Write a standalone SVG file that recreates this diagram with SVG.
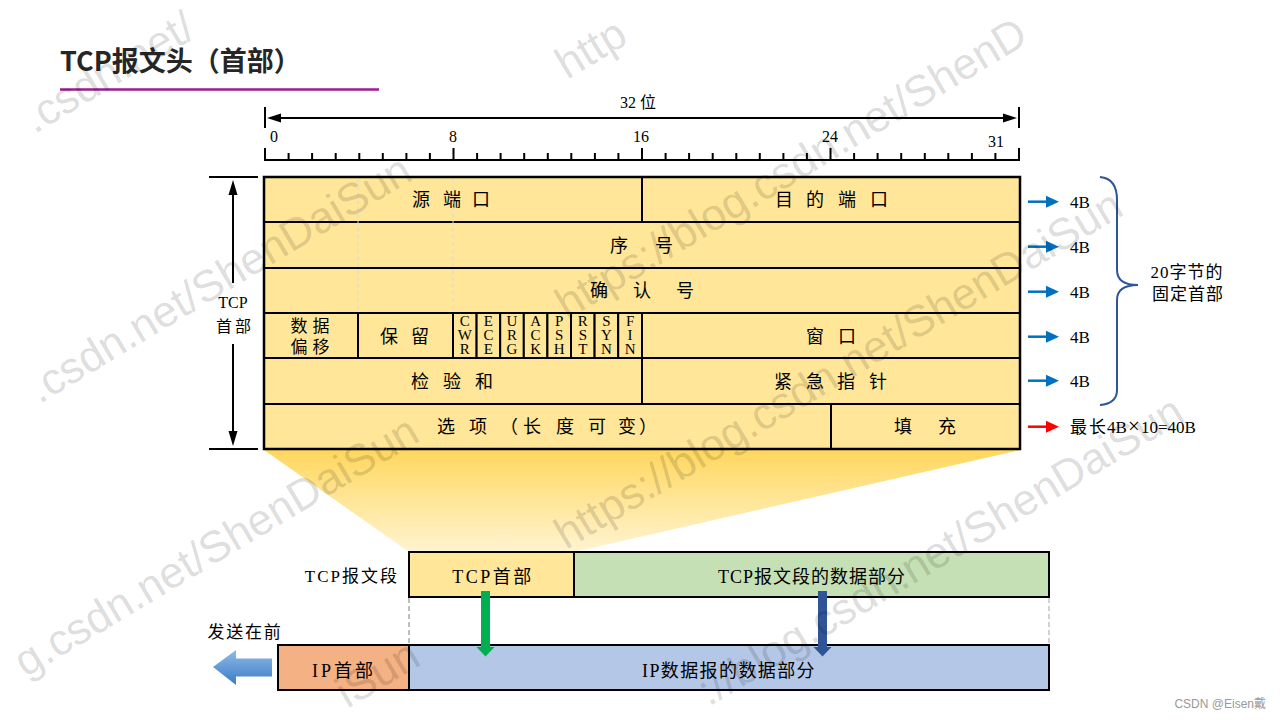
<svg xmlns="http://www.w3.org/2000/svg" width="1280" height="720" viewBox="0 0 1280 720">
<defs>
  <linearGradient id="trap" x1="0" y1="0" x2="0" y2="1">
    <stop offset="0" stop-color="#FFD75E"/>
    <stop offset="1" stop-color="#FFF4D2"/>
  </linearGradient>
  <linearGradient id="bigArrow" x1="0" y1="0" x2="0" y2="1">
    <stop offset="0" stop-color="#8FBBE8"/>
    <stop offset="1" stop-color="#3A7CC4"/>
  </linearGradient>
</defs>
<style>
  .t{font-family:'Liberation Serif','Noto Sans CJK SC',serif;fill:#000}
  .f18{font-size:18px}
  .f17{font-size:17px}
  .f16{font-size:16px}
  .f15{font-size:15px}
  .m{text-anchor:middle}
  .cell{fill:#FFE699;stroke:#000;stroke-width:2}
  .ln{stroke:#000;stroke-width:2;fill:none}
  .dash{stroke:#D9D9D9;stroke-width:1;stroke-dasharray:4 3}
  .blue{stroke:#0070C0;stroke-width:2.5}
  .flag{font-family:'Liberation Serif',serif;font-size:15px;fill:#000;writing-mode:vertical-rl;text-orientation:upright;letter-spacing:-2px}
  .wm{font-family:'Liberation Sans',sans-serif;font-size:44px;fill:#000;fill-opacity:0.15}
</style>
<rect x="0" y="0" width="1280" height="720" fill="#FFFFFF"/>

<g id="title">
  <text x="60" y="71" font-family="'Noto Sans CJK SC','Noto Sans',sans-serif" font-weight="700" font-size="27" fill="#262626">TCP报文头（首部）</text>
  <line x1="60" y1="89.5" x2="379" y2="89.5" stroke="#9B1C8E" stroke-width="2.5"/>
</g>

<g id="ruler">
  <line class="ln" x1="265" y1="107" x2="265" y2="128"/>
  <line class="ln" x1="1019" y1="107" x2="1019" y2="128"/>
  <line class="ln" x1="276" y1="118" x2="1008" y2="118"/>
  <polygon points="267,118 281,113.5 281,122.5" fill="#000"/>
  <polygon points="1017,118 1003,113.5 1003,122.5" fill="#000"/>
  <text class="t f16 m" x="638" y="108">32 位</text>
  <line class="ln" x1="264" y1="160" x2="1020" y2="160"/>
  <path class="ln" d="M265,148V161 M453.5,148V161 M642,148V161 M830.5,148V161 M1019,148V161"/>
  <path class="ln" d="M288.6,153V161 M312.1,153V161 M335.7,153V161 M359.3,153V161 M382.8,153V161 M406.4,153V161 M429.9,153V161 M477.1,153V161 M500.6,153V161 M524.2,153V161 M547.8,153V161 M571.3,153V161 M594.9,153V161 M618.4,153V161 M665.6,153V161 M689.1,153V161 M712.7,153V161 M736.3,153V161 M759.8,153V161 M783.4,153V161 M806.9,153V161 M854.1,153V161 M877.6,153V161 M901.2,153V161 M924.8,153V161 M948.3,153V161 M971.9,153V161 M995.4,153V161"/>
  <text class="t f16 m" x="274" y="142">0</text>
  <text class="t f16 m" x="453" y="142">8</text>
  <text class="t f16 m" x="641" y="142">16</text>
  <text class="t f16 m" x="830" y="142">24</text>
  <text class="t f16 m" x="996" y="147">31</text>
</g>

<g id="zoom-shade">
  <polygon points="264,450 1020,450 574,552 409,552" fill="url(#trap)"/>
</g>

<g id="header-table">
  <g id="src-port">
    <rect class="cell" x="264" y="177" width="378" height="45"/>
    <text class="t f18 m" x="421 452 481" y="206">源端口</text>
  </g>
  <g id="dst-port">
    <rect class="cell" x="642" y="177" width="378" height="45"/>
    <text class="t f18 m" x="784 815 847 879" y="206">目的端口</text>
  </g>
  <g id="seq">
    <rect class="cell" x="264" y="222" width="756" height="46"/>
    <text class="t f18 m" x="619 664" y="252">序号</text>
  </g>
  <g id="ack">
    <rect class="cell" x="264" y="268" width="756" height="45"/>
    <text class="t f18 m" x="599 642 685" y="297">确认号</text>
  </g>
  <line class="dash" x1="358" y1="179" x2="358" y2="312"/>
  <line class="dash" x1="453" y1="179" x2="453" y2="312"/>
  <g id="data-offset">
    <rect class="cell" x="264" y="313" width="94" height="45"/>
    <text class="t f17 m"><tspan x="299 321" y="332">数据</tspan><tspan x="299 321" y="353">偏移</tspan></text>
  </g>
  <g id="reserved">
    <rect class="cell" x="358" y="313" width="95" height="45"/>
    <text class="t f18 m" x="389 420" y="343">保留</text>
  </g>
  <g id="flags">
    <rect class="cell" x="453" y="313" width="23.6" height="45"/>
    <rect class="cell" x="476.6" y="313" width="23.6" height="45"/>
    <rect class="cell" x="500.2" y="313" width="23.6" height="45"/>
    <rect class="cell" x="523.8" y="313" width="23.6" height="45"/>
    <rect class="cell" x="547.4" y="313" width="23.6" height="45"/>
    <rect class="cell" x="571" y="313" width="23.6" height="45"/>
    <rect class="cell" x="594.6" y="313" width="23.6" height="45"/>
    <rect class="cell" x="618.2" y="313" width="23.8" height="45"/>
    <text class="flag" x="464.8" y="313">CWR</text>
    <text class="flag" x="488.4" y="313">ECE</text>
    <text class="flag" x="512" y="313">URG</text>
    <text class="flag" x="535.6" y="313">ACK</text>
    <text class="flag" x="559.2" y="313">PSH</text>
    <text class="flag" x="582.8" y="313">RST</text>
    <text class="flag" x="606.4" y="313">SYN</text>
    <text class="flag" x="630.1" y="313">FIN</text>
  </g>
  <g id="window">
    <rect class="cell" x="642" y="313" width="378" height="45"/>
    <text class="t f18 m" x="815 847" y="343">窗口</text>
  </g>
  <g id="checksum">
    <rect class="cell" x="264" y="358" width="378" height="46"/>
    <text class="t f18 m" x="420 452 484" y="388">检验和</text>
  </g>
  <g id="urgent">
    <rect class="cell" x="642" y="358" width="378" height="46"/>
    <text class="t f18 m" x="783 815 846 878" y="388">紧急指针</text>
  </g>
  <g id="options">
    <rect class="cell" x="264" y="404" width="567" height="45"/>
    <text class="t f18 m" x="446 478 509 532 565 597 627 648" y="433">选项（长度可变）</text>
  </g>
  <g id="padding">
    <rect class="cell" x="831" y="404" width="189" height="45"/>
    <text class="t f18 m" x="903 947" y="433">填充</text>
  </g>
  <rect x="264" y="177" width="756" height="272" fill="none" stroke="#000" stroke-width="2.5"/>
</g>

<g id="tcp-header-span">
  <line class="ln" x1="209" y1="177" x2="258" y2="177"/>
  <line class="ln" x1="209" y1="449" x2="258" y2="449"/>
  <text class="t f16 m" x="233" y="308">TCP</text>
  <text class="t f16 m" x="224 243" y="332">首部</text>
</g>

<g id="fixed-header-note">
  <path d="M1100,177 C1112,178 1117,186 1117,200 L1117,270 C1117,280 1124,285 1138,285 C1124,285 1117,290 1117,300 L1117,390 C1117,398 1112,404 1100,405" fill="none" stroke="#2F5597" stroke-width="2"/>
  <text class="t f17 m" x="1187" y="278" letter-spacing="1">20字节的</text>
  <text class="t f17 m" x="1188" y="300" letter-spacing="1">固定首部</text>
</g>

<g id="size-labels">
  <text class="t f17" x="1070" y="208">4B</text>
  <text class="t f17" x="1070" y="253">4B</text>
  <text class="t f17" x="1070" y="298">4B</text>
  <text class="t f17" x="1070" y="343">4B</text>
  <text class="t f17" x="1070" y="387">4B</text>
  <text class="t f17" y="433"><tspan x="1070">最</tspan><tspan x="1089">长</tspan><tspan x="1107">4B</tspan><tspan x="1128" font-size="21">×</tspan><tspan x="1141">10=40B</tspan></text>
</g>

<g id="tcp-segment">
  <text class="t f17" x="399" y="582" text-anchor="end" letter-spacing="2">TCP报文段</text>
  <g id="tcp-seg-header">
    <rect x="409" y="552" width="165" height="45" fill="#FFE699" stroke="#000" stroke-width="2"/>
    <text class="t f18 m" x="493" y="583" letter-spacing="2.5">TCP首部</text>
  </g>
  <g id="tcp-seg-data">
    <rect x="574" y="552" width="475" height="45" fill="#C5E0B4" stroke="#000" stroke-width="2"/>
    <text class="t f18 m" x="812" y="583" letter-spacing="1">TCP报文段的数据部分</text>
  </g>
</g>

<g id="ip-datagram">
  <text class="t f17 m" x="245" y="638" letter-spacing="1.7">发送在前</text>
  <g id="ip-header">
    <rect x="278" y="645" width="131" height="45" fill="#F4B183" stroke="#000" stroke-width="2"/>
    <text class="t f18 m" x="344" y="677" letter-spacing="3">IP首部</text>
  </g>
  <g id="ip-data">
    <rect x="409" y="645" width="640" height="45" fill="#B4C7E7" stroke="#000" stroke-width="2"/>
    <text class="t f18 m" x="729" y="677" letter-spacing="1.4">IP数据报的数据部分</text>
  </g>
</g>

<g id="connectors">
  <line class="ln" x1="233" y1="192" x2="233" y2="283"/>
  <line class="ln" x1="233" y1="344" x2="233" y2="434"/>
  <polygon points="233,180 228.5,195 237.5,195" fill="#000"/>
  <polygon points="233,446 228.5,431 237.5,431" fill="#000"/>

  <line class="blue" x1="1028" y1="201.7" x2="1048" y2="201.7"/>
  <polygon points="1046,195.7 1059,201.7 1046,207.7" fill="#0070C0"/>
  <line class="blue" x1="1028" y1="246.7" x2="1048" y2="246.7"/>
  <polygon points="1046,240.7 1059,246.7 1046,252.7" fill="#0070C0"/>
  <line class="blue" x1="1028" y1="291.7" x2="1048" y2="291.7"/>
  <polygon points="1046,285.7 1059,291.7 1046,297.7" fill="#0070C0"/>
  <line class="blue" x1="1028" y1="336.7" x2="1048" y2="336.7"/>
  <polygon points="1046,330.7 1059,336.7 1046,342.7" fill="#0070C0"/>
  <line class="blue" x1="1028" y1="380.7" x2="1048" y2="380.7"/>
  <polygon points="1046,374.7 1059,380.7 1046,386.7" fill="#0070C0"/>
  <line x1="1028" y1="426.7" x2="1048" y2="426.7" stroke="#FF0000" stroke-width="2.5"/>
  <polygon points="1046,420.7 1059,426.7 1046,432.7" fill="#FF0000"/>

  <line x1="409" y1="598" x2="409" y2="644" stroke="#7F7F7F" stroke-width="1" stroke-dasharray="5 3"/>
  <line x1="1049" y1="598" x2="1049" y2="644" stroke="#A6A6A6" stroke-width="1" stroke-dasharray="5 3"/>
  <polygon points="481,591 490,591 490,647 494.5,647 485.5,656.5 476.5,647 481,647" fill="#00B050"/>
  <polygon points="818,591 827,591 827,647 831.5,647 822.5,656.5 813.5,647 818,647" fill="#2F5597"/>
  <polygon points="213,667 236,650 236,658.5 272,658.5 272,676.5 236,676.5 236,685" fill="url(#bigArrow)"/>
</g>

<g id="watermark">
  <text class="wm" transform="translate(-150,245) rotate(-31)" x="215.2">.csdn.net/</text>
  <text class="wm" transform="translate(-145,515) rotate(-31)" x="215.2">.csdn.net/ShenDaiSun</text>
  <text class="wm" transform="translate(-138,776) rotate(-31)" x="190.8">g.csdn.net/ShenDaiSun</text>
  <text class="wm" transform="translate(-137,1000) rotate(-31)" x="565">iSun</text>
  <text class="wm" transform="translate(567,80) rotate(-31)">http</text>
  <text class="wm" transform="translate(567,320) rotate(-31)">https://blog.csdn.net/ShenD</text>
  <text class="wm" transform="translate(566,550) rotate(-31)">https://blog.csdn.net/ShenDaiSun</text>
  <text class="wm" transform="translate(627,756) rotate(-31)" x="95.4">://blog.csdn.net/ShenDaiSun</text>
</g>

<text x="1266" y="708" text-anchor="end" font-family="'Liberation Sans','Noto Sans CJK SC',sans-serif" font-size="12" fill="#999999">CSDN @Eisen戴</text>
</svg>
